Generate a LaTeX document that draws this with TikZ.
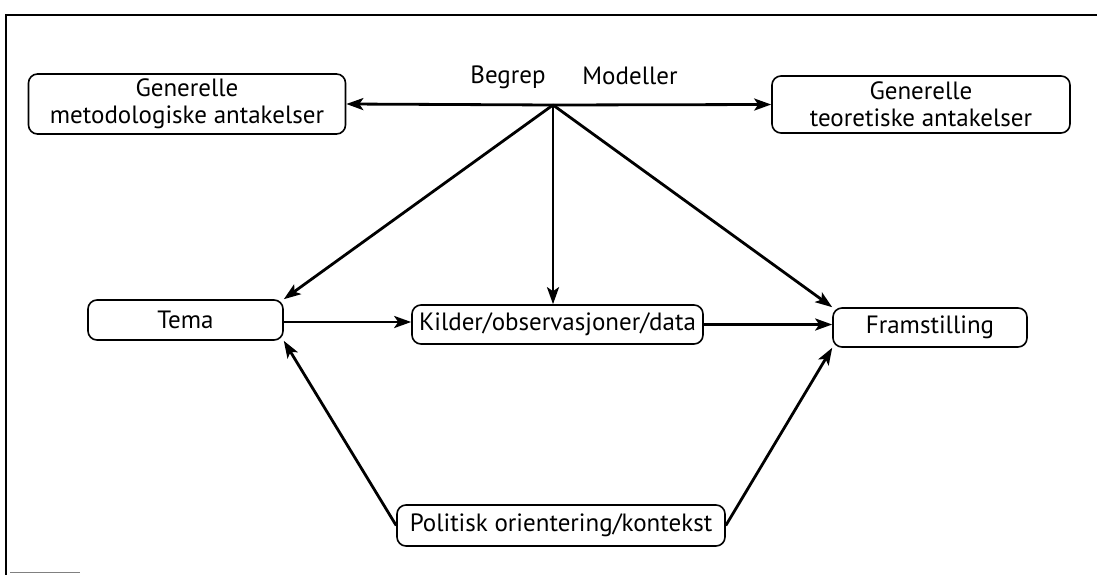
\documentclass[tikz,border=0pt]{standalone}
\usepackage{fontspec}
\setmainfont{PT Sans}
\usetikzlibrary{arrows.meta}
\tikzset{
  box/.style={draw, line width=1.6pt, rounded corners=9pt, inner sep=0pt, align=center, font=\fontsize{25}{27}\selectfont},
  lbl/.style={inner sep=0pt, font=\fontsize{25}{27}\selectfont},
  arr/.style={line width=2.8pt, -{Stealth[length=17pt,width=12pt,inset=4pt]}},
  frame/.style={line width=2.8pt}
}
\begin{document}
\begin{tikzpicture}[x=1pt,y=-1pt]
\useasboundingbox (0,0) rectangle (1097,575);
% frame
\coordinate (f1) at (6,15);
\coordinate (f2) at (1097,15);
\coordinate (f3) at (6,575);
\coordinate (f4) at (10,572);
\coordinate (f5) at (80,572);
\draw[frame] (f2) -- (f1) -- (f3);
\draw[line width=1pt, gray] (f4) -- (f5);
% nodes
\node[box, minimum width=317pt, minimum height=60pt] (meto) at (187,104) {Generelle\\metodologiske antakelser};
\node[box, minimum width=298pt, minimum height=57pt] (teor) at (921,104.5) {Generelle\\teoretiske antakelser};
\node[box, minimum width=195pt, minimum height=40pt] (tema) at (185.5,320) {Tema};
\node[box, minimum width=291pt, minimum height=39pt] (kild) at (557.5,324.5) {Kilder/observasjoner/data};
\node[box, minimum width=194pt, minimum height=39pt] (fram) at (930,327.5) {Framstilling};
\node[box, minimum width=328pt, minimum height=41pt] (poli) at (561,525.5) {Politisk orientering/kontekst};
\node[lbl] (begrep) at (508,77) {Begrep};
\node[lbl] (modell) at (630,76) {Modeller};
\coordinate (hub) at (553,105);
% arrows
\draw[arr] (hub) -- (meto.east);
\draw[arr] (hub) -- (teor.west);
\draw[arr] (hub) -- (tema.north east);
\draw[arr] (hub) -- (kild.north -| hub);
\draw[arr] (hub) -- (fram.north west);
\draw[arr] ([yshift=-2pt]tema.east) -- ([yshift=-2pt]kild.west |- tema.east);
\draw[arr] (kild.east) -- (fram.west |- kild.east);
\draw[arr] (poli.west) -- (tema.south east);
\draw[arr] (poli.east) -- (fram.south west);
\end{tikzpicture}
\end{document}
